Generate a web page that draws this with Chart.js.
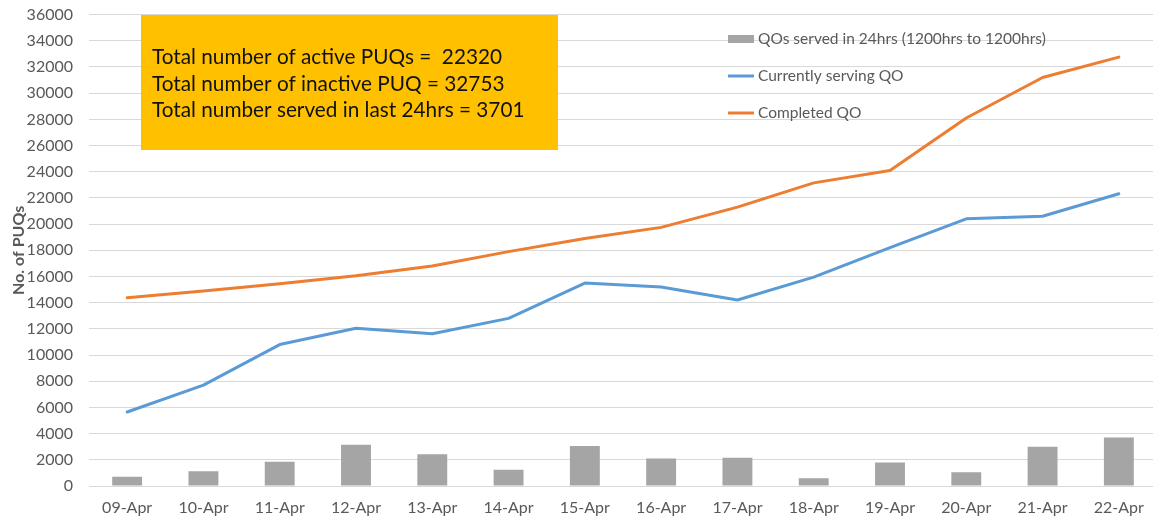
<!DOCTYPE html>
<html><head><meta charset="utf-8">
<script src="https://cdn.jsdelivr.net/npm/chart.js@4"></script>
<style>
html,body{margin:0;padding:0;overflow:hidden;background:#fff;width:1153px;height:522px}
#wrap{width:1158px;height:533px;position:relative;margin-top:-11px}
canvas{display:block}
</style></head>
<body><div id="wrap"><canvas id="c" width="1158" height="533" style="width:1158px;height:533px"></canvas></div>
<script>
const categories = ['09-Apr','10-Apr','11-Apr','12-Apr','13-Apr','14-Apr','15-Apr','16-Apr','17-Apr','18-Apr','19-Apr','20-Apr','21-Apr','22-Apr'];
const servedIn24hrs = [700,1120,1850,3150,2420,1250,3050,2100,2160,600,1800,1050,3000,3701];
const currentlyServing = [5650,7700,10800,12050,11620,12800,15500,15200,14200,15950,18200,20400,20600,22320];
const completedQO = [14380,14900,15450,16050,16800,17900,18900,19750,21300,23150,24100,28100,31200,32753];
const seriesNames = ['QOs served in 24hrs (1200hrs to 1200hrs)','Currently serving QO','Completed QO'];
const yAxisTitle = 'No. of PUQs';
const yMin = 0, yMax = 36000, yStep = 2000;
const summaryLines = ['Total number of active PUQs =  22320','Total number of inactive PUQ = 32753','Total number served in last 24hrs = 3701'];

const FONT = 'Lato, "Open Sans", sans-serif';
const GREY = '#595959';
const OFF = 11; // canvas is shifted up by this many px

function fitFont(ctx, text, target, weight){
  ctx.font = (weight||'') + ' 20px ' + FONT;
  const w = ctx.measureText(text).width;
  return (20*target/w).toFixed(2);
}

const summaryBox = {
  id:'summaryBox',
  afterDatasetsDraw(chart){
    const ctx = chart.ctx;
    ctx.save();
    ctx.fillStyle = '#FFC000';
    ctx.fillRect(141,15+OFF,417,135);
    ctx.fillStyle = '#111';
    const size = fitFont(ctx, summaryLines[0], 350);
    ctx.font = size+'px ' + FONT;
    ctx.textBaseline = 'middle';
    ctx.textAlign = 'left';
    const ys = [57,84,110];
    summaryLines.forEach((t,i)=>ctx.fillText(t,152,ys[i]+OFF));
    ctx.restore();
  }
};

const customLegend = {
  id:'customLegend',
  afterDatasetsDraw(chart){
    const ctx = chart.ctx;
    ctx.save();
    const size = fitFont(ctx, chart.data.datasets[0].label, 288);
    ctx.font = size + 'px ' + FONT;
    ctx.textBaseline = 'middle';
    const ys = [39,76,113];
    chart.data.datasets.forEach((ds,i)=>{
      const y = ys[i]+OFF;
      if (ds.type === 'bar') {
        ctx.fillStyle = ds.backgroundColor;
        ctx.fillRect(728,y-4,26,8);
      } else {
        ctx.strokeStyle = ds.borderColor;
        ctx.lineWidth = 3;
        ctx.beginPath(); ctx.moveTo(728,y); ctx.lineTo(754,y); ctx.stroke();
      }
      ctx.fillStyle = GREY;
      ctx.fillText(ds.label,758,y);
    });
    ctx.restore();
  }
};

new Chart(document.getElementById('c'),{
  data:{
    labels:categories,
    datasets:[
      {type:'bar',label:seriesNames[0],data:servedIn24hrs,backgroundColor:'#A5A5A5',barPercentage:0.49,categoryPercentage:0.8,order:3},
      {type:'line',label:seriesNames[1],data:currentlyServing,borderColor:'#5B9BD5',backgroundColor:'#5B9BD5',borderWidth:3,pointRadius:0,tension:0,borderJoinStyle:'round',borderCapStyle:'round',order:2},
      {type:'line',label:seriesNames[2],data:completedQO,borderColor:'#ED7D31',backgroundColor:'#ED7D31',borderWidth:3,pointRadius:0,tension:0,borderJoinStyle:'round',borderCapStyle:'round',order:1}
    ]
  },
  options:{
    responsive:false,animation:false,devicePixelRatio:1,
    layout:{padding:{top:4,right:1,left:0,bottom:0}},
    plugins:{legend:{display:false},tooltip:{enabled:false}},
    scales:{
      x:{offset:true,grid:{display:false,drawTicks:false},border:{display:false},
         ticks:{color:GREY,font:{family:FONT,size:16},padding:12,maxRotation:0,autoSkip:false},
         afterFit(s){s.height=36;}},
      y:{min:yMin,max:yMax,
         ticks:{stepSize:yStep,color:GREY,font:{family:FONT,size:16},padding:16,callback:v=>String(v)},
         grid:{color:'#d9d9d9',drawTicks:false,lineWidth:1},border:{display:false},
         title:{display:true,text:yAxisTitle,color:GREY,font:{family:FONT,size:16,weight:'bold'},padding:{top:9,bottom:0}},
         afterFit(s){s.width=89;}}
    }
  },
  plugins:[summaryBox,customLegend]
});
</script></body></html>
